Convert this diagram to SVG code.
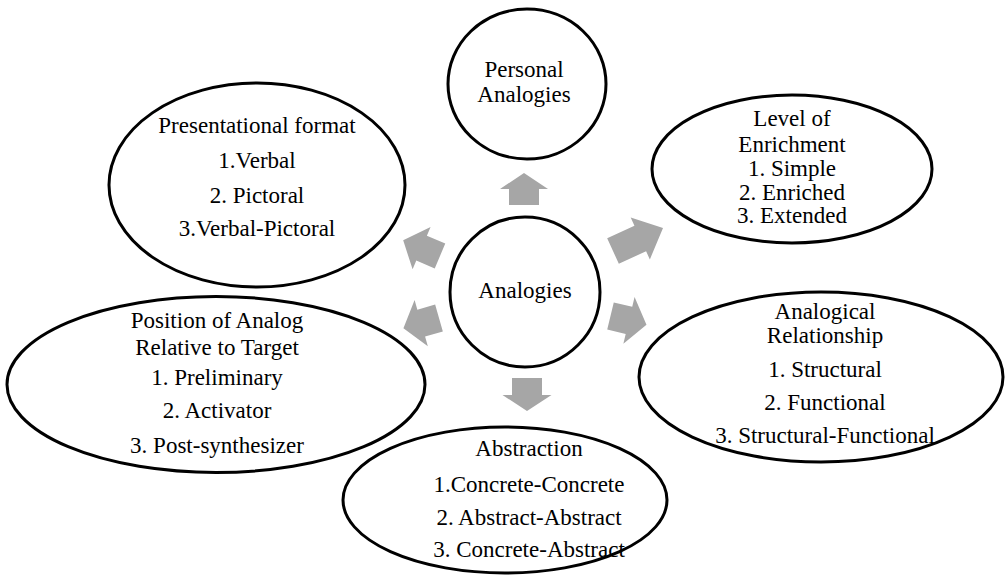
<svg xmlns="http://www.w3.org/2000/svg" width="1005" height="576" viewBox="0 0 1005 576">
<style>
.node{fill:none;stroke:#000;stroke-width:3}
.t{font-size:23px;fill:#000;text-anchor:middle}
.arr{fill:#a6a6a6;stroke:none}
</style>
<rect width="1005" height="576" fill="#fff"/>
<g id="connectors">
<path class="arr" transform="translate(524,205) rotate(-90)" d="M0,-15 L16,-15 L16,-24 L32,0 L16,24 L16,15 L0,15 Z"/>
<path class="arr" transform="translate(527,378) rotate(90)" d="M0,-15 L17,-15 L17,-24.5 L33,0 L17,24.5 L17,15 L0,15 Z"/>
<path class="arr" transform="translate(613,251) rotate(-24.6)" d="M0,-14 L30,-14 L30,-23 L55,0 L30,23 L30,14 L0,14 Z"/>
<path class="arr" transform="translate(610.5,316) rotate(13.5)" d="M0,-14 L19,-14 L19,-24 L37,0 L19,24 L19,14 L0,14 Z"/>
<path class="arr" transform="translate(440,256) rotate(-157)" d="M0,-13.5 L20,-13.5 L20,-23 L40,0 L20,23 L20,13.5 L0,13.5 Z"/>
<path class="arr" transform="translate(439,318) rotate(164)" d="M0,-14 L18.5,-14 L18.5,-24 L37,0 L18.5,24 L18.5,14 L0,14 Z"/>
</g>
<g font-family="Liberation Serif, DejaVu Serif, serif">
<g id="center">
<ellipse class="node" cx="525" cy="292" rx="75" ry="75"/>
<text class="t" x="525" y="298">Analogies</text>
</g>
<g id="personal">
<ellipse class="node" cx="527" cy="84" rx="79" ry="75"/>
<text class="t" x="524" y="77">Personal</text>
<text class="t" x="524" y="102">Analogies</text>
</g>
<g id="presentational">
<ellipse class="node" cx="257" cy="185" rx="148" ry="102"/>
<text class="t" x="257" y="133">Presentational format</text>
<text class="t" x="257" y="168">1.Verbal</text>
<text class="t" x="257" y="203">2. Pictoral</text>
<text class="t" x="257" y="236">3.Verbal-Pictoral</text>
</g>
<g id="enrichment">
<ellipse class="node" cx="792" cy="169" rx="140" ry="74"/>
<text class="t" x="792" y="126">Level of</text>
<text class="t" x="792" y="152">Enrichment</text>
<text class="t" x="792" y="176">1. Simple</text>
<text class="t" x="792" y="200">2. Enriched</text>
<text class="t" x="792" y="223">3. Extended</text>
</g>
<g id="position">
<ellipse class="node" cx="216" cy="384.5" rx="209" ry="88"/>
<text class="t" x="217" y="328">Position of Analog</text>
<text class="t" x="217" y="355">Relative to Target</text>
<text class="t" x="217" y="385">1. Preliminary</text>
<text class="t" x="217" y="418">2. Activator</text>
<text class="t" x="217" y="453">3. Post-synthesizer</text>
</g>
<g id="relationship">
<ellipse class="node" cx="821" cy="377" rx="182" ry="85"/>
<text class="t" x="825" y="319">Analogical</text>
<text class="t" x="825" y="343">Relationship</text>
<text class="t" x="825" y="377">1. Structural</text>
<text class="t" x="825" y="410">2. Functional</text>
<text class="t" x="825" y="443">3. Structural-Functional</text>
</g>
<g id="abstraction">
<ellipse class="node" cx="505" cy="500" rx="162" ry="73"/>
<text class="t" x="529" y="456">Abstraction</text>
<text class="t" x="529" y="492">1.Concrete-Concrete</text>
<text class="t" x="529" y="525">2. Abstract-Abstract</text>
<text class="t" x="529" y="557">3. Concrete-Abstract</text>
</g>
</g>
</svg>
